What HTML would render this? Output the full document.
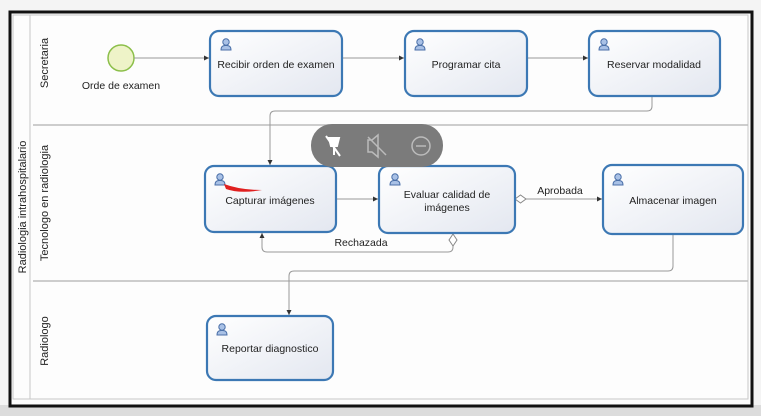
<!DOCTYPE html>
<html><head><meta charset="utf-8"><style>
html,body{margin:0;padding:0;width:761px;height:416px;overflow:hidden;background:#ececec;font-family:"Liberation Sans",sans-serif}
</style></head><body>
<svg width="761" height="416" viewBox="0 0 761 416" xmlns="http://www.w3.org/2000/svg" font-family="Liberation Sans, sans-serif">
<defs>
<linearGradient id="g" x1="0" y1="0" x2="1" y2="1"><stop offset="0" stop-color="#ffffff"/><stop offset="1" stop-color="#e3e7f0"/></linearGradient>
<marker id="a" markerWidth="6" markerHeight="6" refX="5" refY="3" orient="auto"><path d="M0,0.5 L5,3 L0,5.5z" fill="#333"/></marker>
<g id="u"><circle cx="0" cy="-3" r="3.2" fill="#a9c1e6" stroke="#4a6fa8" stroke-width="1"/><path d="M-5,5 Q-5,0 0,0.5 Q5,0 5,5z" fill="#a9c1e6" stroke="#4a6fa8" stroke-width="1"/></g>
</defs>
<rect x="0" y="0" width="761" height="416" fill="#f4f4f4"/>
<rect x="0" y="405" width="761" height="11" fill="#dcdcdc"/>
<rect x="10" y="12" width="742" height="394" fill="#fdfdfd" stroke="#111" stroke-width="3"/>
<rect x="13" y="15" width="735" height="384" fill="none" stroke="#c8c8c8" stroke-width="1"/>
<line x1="30" y1="15" x2="30" y2="399" stroke="#c8c8c8"/>
<line x1="33" y1="125" x2="748" y2="125" stroke="#bdbdbd" stroke-width="1.5"/>
<line x1="33" y1="281" x2="748" y2="281" stroke="#bdbdbd" stroke-width="1.5"/>
<g font-size="11" fill="#222">
<text transform="translate(26,207) rotate(-90)" text-anchor="middle">Radiologia intrahospitalario</text>
<text transform="translate(48,63) rotate(-90)" text-anchor="middle">Secretaria</text>
<text transform="translate(48,203) rotate(-90)" text-anchor="middle">Tecnologo en radiologia</text>
<text transform="translate(48,341) rotate(-90)" text-anchor="middle">Radiologo</text>
</g>
<circle cx="121" cy="58" r="13" fill="#eef3c8" stroke="#8cbf4a" stroke-width="1.5"/>
<text x="121" y="89" font-size="10.5" text-anchor="middle" fill="#222">Orde de examen</text>
<g stroke="#999" stroke-width="1" fill="none">
<line x1="134" y1="58" x2="209" y2="58" marker-end="url(#a)"/>
<line x1="342" y1="58" x2="404" y2="58" marker-end="url(#a)"/>
<line x1="527" y1="58" x2="588" y2="58" marker-end="url(#a)"/>
<path d="M652,96 V106 Q652,111 647,111 H275 Q270,111 270,116 V165" marker-end="url(#a)"/>
<line x1="336" y1="199" x2="378" y2="199" marker-end="url(#a)"/>
<line x1="526" y1="199" x2="602" y2="199" marker-end="url(#a)"/>
<path d="M453,246 V247 Q453,252 448,252 H267 Q262,252 262,247 V233" marker-end="url(#a)"/>
<path d="M673,234 V266 Q673,271 668,271 H294 Q289,271 289,276 V315" marker-end="url(#a)"/>
</g>
<path d="M515,199 L520.5,195 L526,199 L520.5,203z" fill="#fff" stroke="#888"/>
<path d="M453,234 L457,240 L453,246 L449,240z" fill="#fff" stroke="#888"/>
<text x="560" y="194" font-size="10.5" text-anchor="middle" fill="#222">Aprobada</text>
<text x="361" y="246" font-size="10.5" text-anchor="middle" fill="#222">Rechazada</text>
<g stroke="#3c78b4" stroke-width="2.2" fill="url(#g)">
<rect x="210" y="31" width="132" height="65" rx="9"/>
<rect x="405" y="31" width="122" height="65" rx="9"/>
<rect x="589" y="31" width="131" height="65" rx="9"/>
<rect x="205" y="166" width="131" height="66" rx="9"/>
<rect x="379" y="166" width="136" height="67" rx="9"/>
<rect x="603" y="165" width="140" height="69" rx="9"/>
<rect x="207" y="316" width="126" height="64" rx="9"/>
</g>
<use href="#u" x="226" y="45"/><use href="#u" x="420" y="45"/><use href="#u" x="604" y="45"/>
<use href="#u" x="220" y="180"/><use href="#u" x="395" y="180"/><use href="#u" x="618" y="180"/><use href="#u" x="222" y="330"/>
<g font-size="10.5" fill="#222" text-anchor="middle">
<text x="276" y="68">Recibir orden de examen</text>
<text x="466" y="68">Programar cita</text>
<text x="654" y="68">Reservar modalidad</text>
<text x="270" y="204">Capturar imágenes</text>
<text x="447" y="198">Evaluar calidad de</text>
<text x="447" y="211">imágenes</text>
<text x="673" y="204">Almacenar imagen</text>
<text x="270" y="352">Reportar diagnostico</text>
</g>
<path d="M224,184 Q240,190 262,190 Q240,194 226,189z" fill="#e02020"/>
<rect x="311" y="124" width="132" height="43" rx="21" fill="#7b7b7b"/>
<g stroke="#fff" stroke-width="2" fill="none">
<path d="M326,136 L340,156"/><path d="M329,138 H339 L337,146 H331z" fill="#fff"/><line x1="334" y1="146" x2="334" y2="155"/>
<path d="M368,140 V152 H372 L378,157 V135 L372,140z" stroke="#bbb" stroke-width="1.5"/><line x1="368" y1="137" x2="386" y2="155" stroke="#bbb" stroke-width="1.5"/>
<circle cx="421" cy="146" r="9" stroke="#bbb" stroke-width="1.5"/><line x1="416" y1="146" x2="426" y2="146" stroke="#bbb" stroke-width="1.5"/>
</g>
</svg>
</body></html>
